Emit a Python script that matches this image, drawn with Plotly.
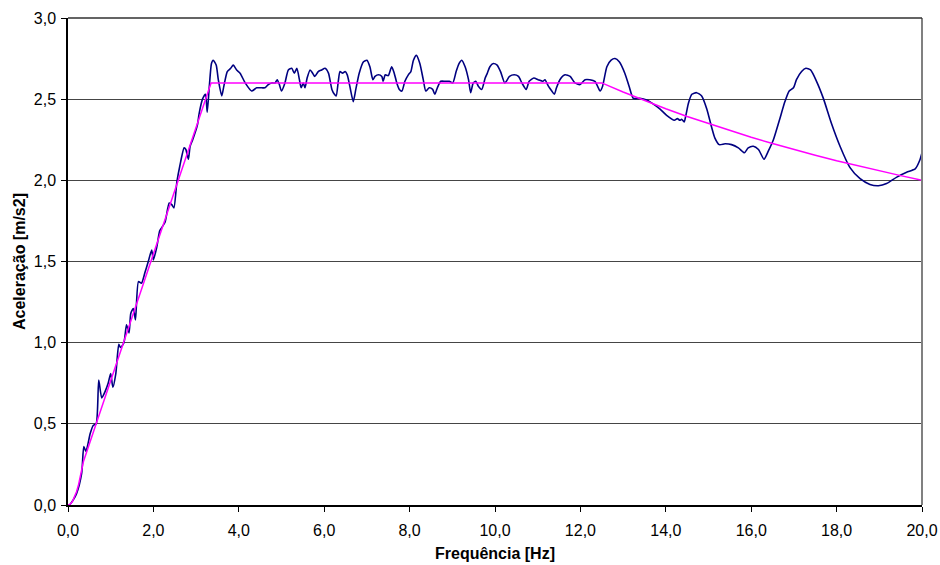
import plotly.graph_objects as go

# Measured response spectrum (frequency in Hz, acceleration in m/s2)
resp_freq = [
    0.00, 0.03, 0.12, 0.20, 0.32, 0.37, 0.42, 0.52, 0.59, 0.66, 0.72, 0.79, 0.87, 0.94,
    1.00, 1.05, 1.12, 1.19, 1.23, 1.31, 1.37, 1.43, 1.47, 1.53, 1.58, 1.65, 1.72, 1.80,
    1.88, 1.96, 2.00, 2.08, 2.15, 2.27, 2.37, 2.43, 2.48, 2.55, 2.62, 2.72, 2.76, 2.82,
    2.86, 2.92, 3.03, 3.07, 3.15, 3.22, 3.26, 3.31, 3.36, 3.40, 3.47, 3.52, 3.60, 3.65,
    3.73, 3.81, 3.87, 3.95, 4.03, 4.15, 4.30, 4.42, 4.54, 4.61, 4.69, 4.77, 4.85, 4.90,
    4.95, 5.00, 5.08, 5.16, 5.24, 5.30, 5.36, 5.42, 5.46, 5.51, 5.55, 5.60, 5.67, 5.73,
    5.78, 5.86, 5.94, 6.02, 6.10, 6.18, 6.24, 6.28, 6.33, 6.37, 6.43, 6.49, 6.54, 6.60,
    6.68, 6.74, 6.82, 6.92, 7.00, 7.07, 7.14, 7.19, 7.27, 7.35, 7.38, 7.43, 7.50, 7.58,
    7.64, 7.70, 7.76, 7.82, 7.89, 7.97, 8.03, 8.09, 8.16, 8.24, 8.32, 8.38, 8.46, 8.54,
    8.59, 8.65, 8.73, 8.83, 8.93, 9.01, 9.09, 9.16, 9.22, 9.30, 9.38, 9.43, 9.49, 9.55,
    9.61, 9.69, 9.77, 9.82, 9.88, 9.96, 10.05, 10.13, 10.23, 10.34, 10.45, 10.55, 10.63,
    10.73, 10.80, 10.91, 11.01, 11.12, 11.17, 11.25, 11.33, 11.39, 11.44, 11.52, 11.64,
    11.76, 11.87, 11.99, 12.11, 12.22, 12.34, 12.42, 12.46, 12.52, 12.62, 12.72, 12.81,
    12.91, 13.04, 13.14, 13.24, 13.39, 13.55, 13.71, 13.86, 14.02, 14.20, 14.27, 14.33,
    14.37, 14.43, 14.47, 14.53, 14.61, 14.72, 14.84, 14.96, 15.07, 15.15, 15.25, 15.39,
    15.54, 15.70, 15.84, 15.93, 16.05, 16.17, 16.30, 16.40, 16.52, 16.66, 16.79, 16.89,
    16.99, 17.06, 17.18, 17.28, 17.39, 17.53, 17.69, 17.88, 18.08, 18.31, 18.55, 18.78,
    18.98, 19.17, 19.41, 19.64, 19.84, 19.95, 20.00,
]
resp_acc = [
    0.00, 0.00, 0.03, 0.07, 0.195, 0.36, 0.33, 0.44, 0.49, 0.50, 0.77, 0.66, 0.70, 0.75,
    0.81, 0.725, 0.81, 0.99, 0.97, 1.00, 1.11, 1.06, 1.18, 1.21, 1.14, 1.376, 1.366, 1.43,
    1.50, 1.57, 1.51, 1.59, 1.69, 1.74, 1.86, 1.85, 1.83, 1.99, 2.09, 2.20, 2.19, 2.13,
    2.21, 2.25, 2.34, 2.41, 2.50, 2.53, 2.42, 2.58, 2.72, 2.74, 2.71, 2.62, 2.52, 2.58,
    2.67, 2.69, 2.71, 2.68, 2.66, 2.60, 2.55, 2.57, 2.57, 2.57, 2.59, 2.60, 2.60, 2.62,
    2.59, 2.55, 2.60, 2.68, 2.69, 2.66, 2.69, 2.62, 2.57, 2.60, 2.57, 2.63, 2.68, 2.66,
    2.64, 2.67, 2.68, 2.69, 2.66, 2.56, 2.53, 2.52, 2.61, 2.67, 2.66, 2.67, 2.65, 2.58,
    2.485, 2.56, 2.66, 2.73, 2.74, 2.70, 2.62, 2.64, 2.65, 2.64, 2.61, 2.65, 2.645, 2.70,
    2.66, 2.60, 2.56, 2.55, 2.61, 2.65, 2.67, 2.74, 2.77, 2.72, 2.62, 2.55, 2.57, 2.56,
    2.53, 2.57, 2.61, 2.61, 2.61, 2.60, 2.67, 2.72, 2.74, 2.70, 2.62, 2.54, 2.60, 2.61,
    2.58, 2.56, 2.63, 2.66, 2.70, 2.72, 2.71, 2.67, 2.60, 2.64, 2.65, 2.64, 2.60,
    2.56, 2.61, 2.63, 2.62, 2.61, 2.62, 2.58, 2.55, 2.53, 2.57, 2.62, 2.65,
    2.64, 2.60, 2.59, 2.62, 2.62, 2.61, 2.57, 2.55, 2.58, 2.70, 2.74, 2.75,
    2.73, 2.66, 2.58, 2.505, 2.505, 2.495, 2.47, 2.44, 2.40, 2.37, 2.38, 2.37,
    2.376, 2.36, 2.40, 2.475, 2.53, 2.54, 2.52, 2.44, 2.33, 2.26, 2.22, 2.225,
    2.22, 2.20, 2.17, 2.20, 2.21, 2.19, 2.13, 2.18, 2.25, 2.37, 2.485, 2.55,
    2.57, 2.62, 2.67, 2.69, 2.68, 2.61, 2.505, 2.35, 2.21, 2.08, 2.01, 1.975,
    1.967, 1.98, 2.02, 2.05, 2.07, 2.125, 2.17,
]

# Target (design) spectrum
target_freq = [0.00, 0.05, 0.10, 0.15, 0.20, 0.25, 0.30, 0.36, 3.35, 12.5,
               13.0, 13.5, 14.0, 14.5, 15.0, 15.5, 16.0, 16.5, 17.0, 17.5,
               18.0, 18.5, 19.0, 19.5, 20.0]
target_acc = [0.000, 0.005, 0.020, 0.046, 0.082, 0.128, 0.185, 0.266, 2.600, 2.600,
              2.544, 2.491, 2.441, 2.393, 2.349, 2.306, 2.265, 2.227, 2.190, 2.155,
              2.121, 2.089, 2.058, 2.029, 2.000]

x_ticks = [0, 2, 4, 6, 8, 10, 12, 14, 16, 18, 20]
y_ticks = [0, 0.5, 1.0, 1.5, 2.0, 2.5, 3.0]

FONT = "Liberation Sans, Arial, sans-serif"

fig = go.Figure()
fig.add_trace(go.Scatter(
    x=resp_freq, y=resp_acc, mode="lines",
    line=dict(color="#000080", width=1.6, shape="spline", smoothing=0.6),
    showlegend=False,
))
fig.add_trace(go.Scatter(
    x=target_freq, y=target_acc, mode="lines",
    line=dict(color="#FF00FF", width=1.5),
    showlegend=False,
))

# right border of the plot area and top grid line
fig.add_shape(type="line", xref="paper", yref="paper", x0=1, x1=1, y0=0, y1=1,
              line=dict(color="#808080", width=2))
fig.add_shape(type="line", xref="paper", yref="paper", x0=0, x1=1, y0=1, y1=1,
              line=dict(color="#303030", width=1.5))

fig.update_layout(
    width=940, height=565,
    margin=dict(l=68, r=18, t=18, b=60),
    paper_bgcolor="white", plot_bgcolor="white",
    separators=",.",
    font=dict(family=FONT, size=16, color="black"),
    xaxis=dict(
        range=[0, 20], tickvals=x_ticks, tickformat=".1f",
        automargin=False,
        showgrid=False, zeroline=False,
        showline=True, linecolor="black", linewidth=1.5,
        ticks="outside", ticklen=5, tickwidth=1, tickcolor="black",
        ticklabelstandoff=5,
        title=dict(text="<b>Frequência [Hz]</b>", font=dict(size=16), standoff=10),
    ),
    yaxis=dict(
        range=[0, 3], tickvals=y_ticks, tickformat=".1f",
        automargin=False,
        showgrid=True, gridcolor="#454545", gridwidth=1.2,
        zeroline=False,
        showline=True, linecolor="black", linewidth=1.5,
        ticks="outside", ticklen=5, tickwidth=1, tickcolor="black",
        ticklabelstandoff=2,
        title=dict(text="<b>Aceleração [m/s2]</b>", font=dict(size=16), standoff=4),
    ),
)

fig.write_html("out.html")
